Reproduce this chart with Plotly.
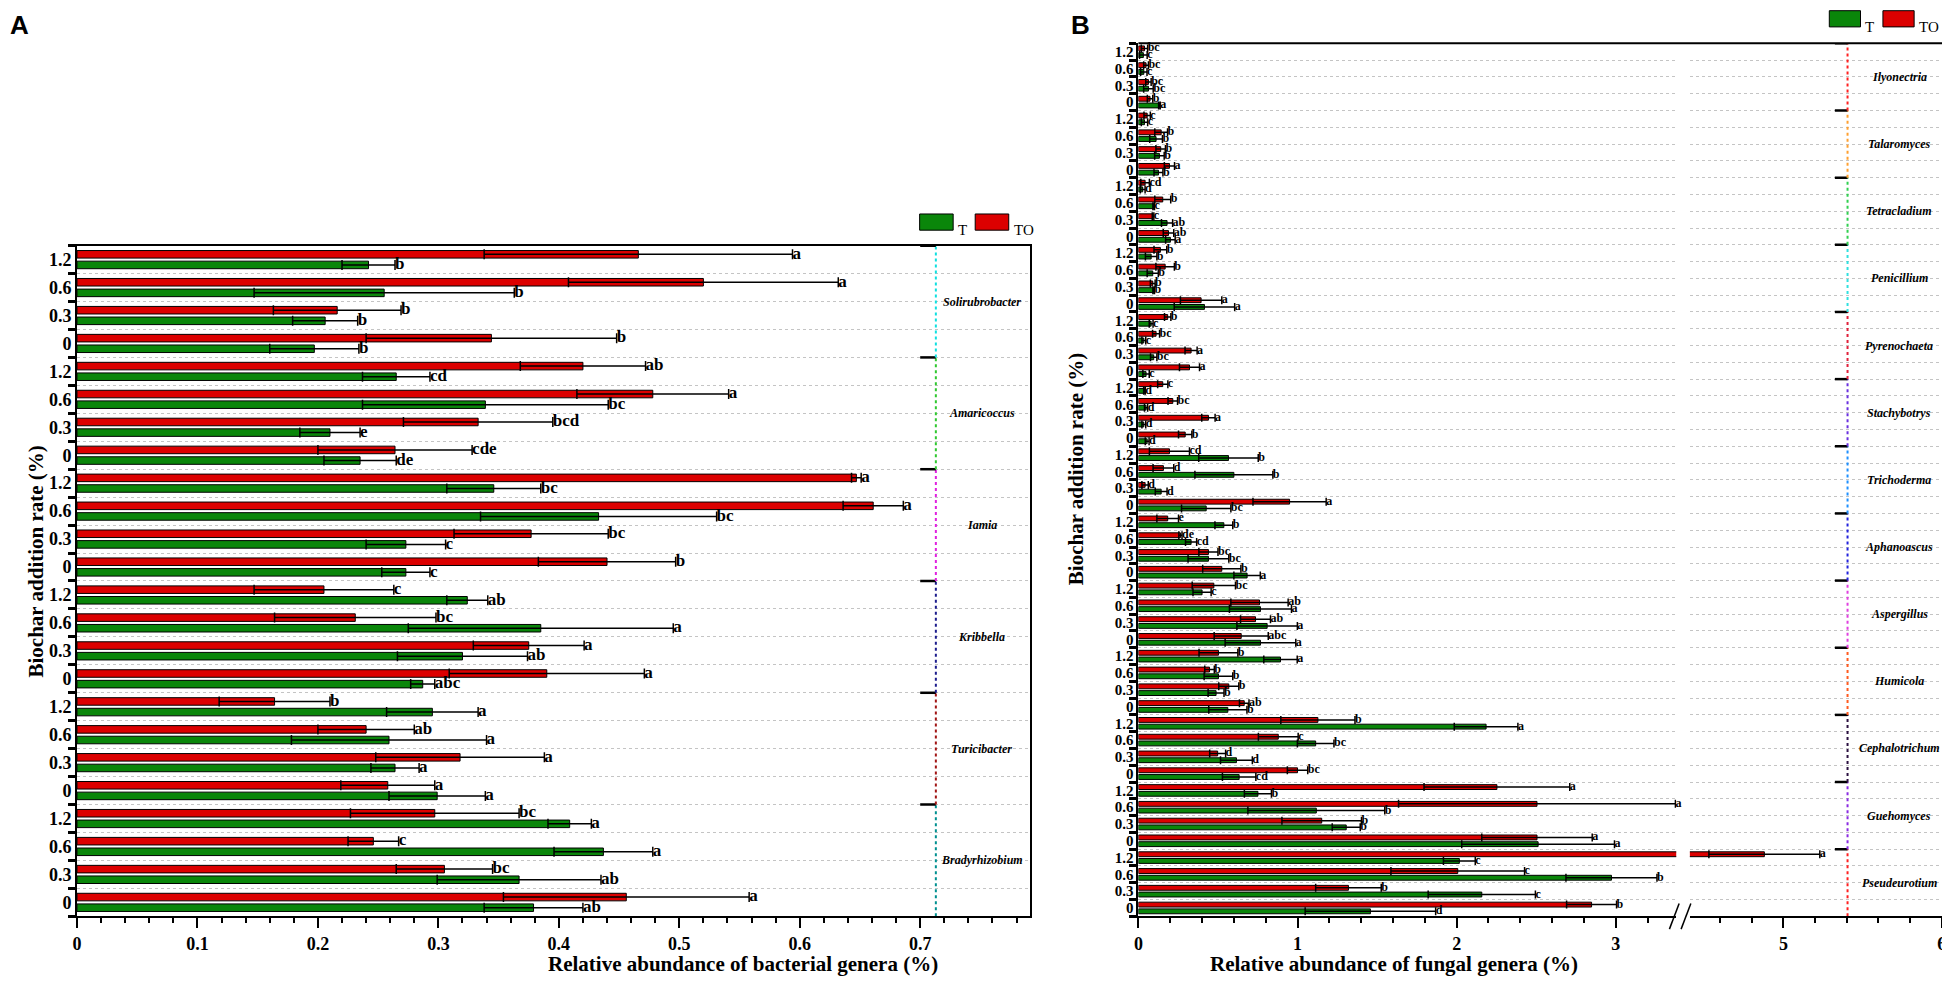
import plotly.graph_objects as go

# rates are listed bottom -> top inside each genus block
rates = ["0", "0.3", "0.6", "1.2"]

# ---------------- panel A: bacteria (genera bottom -> top) ----------------
bac_genera = ["Bradyrhizobium", "Turicibacter", "Kribbella", "Iamia", "Amaricoccus", "Solirubrobacter"]
bac_colors = ["#009090", "#a01414", "#1c1c8c", "#e020e0", "#30c830", "#10e0e0"]

bac_t_mean = [[0.379, 0.367, 0.437, 0.409], [0.299, 0.264, 0.259, 0.295], [0.287, 0.320, 0.385, 0.324],
              [0.273, 0.273, 0.433, 0.346], [0.235, 0.210, 0.339, 0.265], [0.197, 0.206, 0.255, 0.242]]
bac_t_err = [[0.041, 0.068, 0.041, 0.018], [0.040, 0.020, 0.081, 0.038], [0.010, 0.054, 0.110, 0.017],
             [0.020, 0.033, 0.098, 0.039], [0.030, 0.025, 0.102, 0.028], [0.037, 0.027, 0.108, 0.022]]
bac_t_sig = [["ab", "ab", "a", "a"], ["a", "a", "a", "a"], ["abc", "ab", "a", "ab"],
             ["c", "c", "bc", "bc"], ["de", "e", "bc", "cd"], ["b", "b", "b", "b"]]

bac_to_mean = [[0.456, 0.305, 0.246, 0.297], [0.258, 0.318, 0.240, 0.164], [0.390, 0.375, 0.231, 0.205],
               [0.440, 0.377, 0.661, 0.647], [0.264, 0.333, 0.478, 0.420], [0.344, 0.216, 0.520, 0.466]]
bac_to_err = [[0.102, 0.040, 0.021, 0.070], [0.039, 0.070, 0.040, 0.046], [0.081, 0.046, 0.067, 0.058],
              [0.057, 0.064, 0.025, 0.004], [0.064, 0.062, 0.063, 0.052], [0.104, 0.053, 0.112, 0.128]]
bac_to_sig = [["a", "bc", "c", "bc"], ["a", "a", "ab", "b"], ["a", "a", "bc", "c"],
              ["b", "bc", "a", "a"], ["cde", "bcd", "a", "ab"], ["b", "b", "a", "a"]]

# ---------------- panel B: fungi (genera bottom -> top) ----------------
fun_genera = ["Pseudeurotium", "Guehomyces", "Cephalotrichum", "Humicola", "Aspergillus", "Aphanoascus",
              "Trichoderma", "Stachybotrys", "Pyrenochaeta", "Penicillium", "Tetracladium", "Talaromyces",
              "Ilyonectria"]
fun_colors = ["#ff2020", "#8a2be2", "#2b1040", "#ff5a1f", "#e040e0", "#2222dd", "#1e90ff", "#6a30e0",
              "#e0203a", "#30e0e0", "#30d050", "#ffa030", "#ff2020"]

fun_t_mean = [[1.458, 2.158, 2.973, 2.017], [2.512, 1.306, 1.118, 0.751], [0.633, 0.616, 1.114, 2.185],
              [0.562, 0.488, 0.503, 0.893], [0.767, 0.809, 0.767, 0.400], [0.683, 0.440, 0.331, 0.537],
              [0.426, 0.143, 0.600, 0.566], [0.055, 0.034, 0.048, 0.038], [0.048, 0.096, 0.034, 0.080],
              [0.415, 0.096, 0.090, 0.080], [0.201, 0.180, 0.096, 0.027], [0.126, 0.132, 0.111, 0.038],
              [0.132, 0.063, 0.034, 0.031]]
fun_t_err = [[0.410, 0.337, 0.286, 0.100], [0.480, 0.088, 0.430, 0.085], [0.105, 0.100, 0.115, 0.200],
             [0.120, 0.050, 0.090, 0.105], [0.222, 0.190, 0.195, 0.057], [0.083, 0.128, 0.035, 0.056],
             [0.155, 0.037, 0.245, 0.187], [0.012, 0.012, 0.010, 0.005], [0.020, 0.020, 0.012, 0.012],
             [0.190, 0.005, 0.035, 0.036], [0.030, 0.035, 0.005, 0.015], [0.028, 0.030, 0.040, 0.020],
             [0.005, 0.030, 0.020, 0.024]]
fun_t_sig = [["d", "c", "b", "c"], ["a", "b", "b", "b"], ["cd", "d", "bc", "a"], ["b", "b", "b", "a"],
             ["a", "a", "a", "c"], ["a", "bc", "cd", "b"], ["bc", "d", "b", "b"], ["d", "d", "d", "d"],
             ["c", "bc", "c", "c"], ["a", "b", "b", "b"], ["a", "ab", "c", "d"], ["b", "b", "b", "c"],
             ["a", "bc", "c", "c"]]

fun_to_mean = [[2.848, 1.320, 2.007, 4.880], [2.505, 1.152, 2.505, 2.253], [1.000, 0.498, 0.879, 1.128],
               [0.665, 0.568, 0.447, 0.503], [0.646, 0.736, 0.761, 0.474], [0.524, 0.440, 0.264, 0.184],
               [0.950, 0.042, 0.157, 0.195], [0.294, 0.440, 0.216, 0.153], [0.321, 0.331, 0.111, 0.184],
               [0.394, 0.090, 0.168, 0.138], [0.189, 0.092, 0.153, 0.042], [0.195, 0.140, 0.143, 0.055],
               [0.073, 0.063, 0.048, 0.038]]
fun_to_err = [[0.157, 0.206, 0.420, 0.350], [0.347, 0.250, 0.870, 0.458], [0.064, 0.050, 0.125, 0.233],
              [0.030, 0.063, 0.030, 0.122], [0.170, 0.094, 0.180, 0.136], [0.120, 0.060, 0.010, 0.068],
              [0.230, 0.020, 0.065, 0.126], [0.042, 0.042, 0.030, 0.032], [0.063, 0.038, 0.022, 0.020],
              [0.130, 0.015, 0.058, 0.040], [0.033, 0.005, 0.050, 0.027], [0.032, 0.030, 0.040, 0.020],
              [0.017, 0.017, 0.015, 0.020]]
fun_to_sig = [["b", "b", "c", "a"], ["a", "b", "a", "a"], ["bc", "d", "c", "b"], ["ab", "b", "b", "b"],
              ["abc", "ab", "ab", "bc"], ["b", "bc", "de", "e"], ["a", "d", "d", "cd"], ["b", "a", "bc", "c"],
              ["a", "a", "bc", "b"], ["a", "b", "b", "b"], ["ab", "c", "b", "cd"], ["a", "b", "b", "c"],
              ["b", "bc", "bc", "bc"]]

SERIES = [("T", "#0a860a", -1), ("TO", "#dc0000", 1)]
SERIF = "Liberation Serif"
AX_BREAK = 4.0  # values past this are drawn on the right piece of the broken axis


def flat(nested):
    return [v for grp in nested for v in grp]


def draw_panel(fig, genera, means, errs, sigs, xaxes, yaxis, shift, width, letter_size, cap):
    rows = [g * len(rates) + k for g in range(len(genera)) for k in range(len(rates))]
    for (name, color, side), m, e, s in zip(SERIES, means, errs, sigs):
        ypos = [r + side * shift for r in rows]
        xs, es, ss = flat(m), flat(e), flat(s)
        for xa in xaxes:
            fig.add_trace(go.Bar(
                x=xs, y=ypos, orientation="h", width=width, name=name,
                marker=dict(color=color, line=dict(color="black", width=1)),
                error_x=dict(type="data", array=es, color="black", thickness=1.5, width=cap),
                xaxis=xa, yaxis=yaxis, showlegend=False))
        ends = [a + b for a, b in zip(xs, es)]
        for i, xa in enumerate(xaxes):
            pick = [j for j in range(len(ends)) if len(xaxes) == 1 or (ends[j] >= AX_BREAK) == (i == 1)]
            fig.add_trace(go.Scatter(
                x=[ends[j] for j in pick], y=[ypos[j] for j in pick], text=[ss[j] for j in pick],
                mode="text", textposition="middle right", cliponaxis=False,
                textfont=dict(family=SERIF, size=letter_size, color="black", weight="bold"),
                xaxis=xa, yaxis=yaxis, showlegend=False, hoverinfo="skip"))


def genus_marks(fig, genera, colors, xaxis, yaxis, x_line, x_tick, x_label, label_size):
    n = len(rates)
    for g, (name, col) in enumerate(zip(genera, colors)):
        lo, hi = g * n - 0.5, g * n + n - 0.5
        fig.add_trace(go.Scatter(x=[x_line, x_line], y=[lo, hi], mode="lines",
                                 line=dict(color=col, width=2, dash="dot"),
                                 xaxis=xaxis, yaxis=yaxis, showlegend=False, hoverinfo="skip"))
        fig.add_trace(go.Scatter(x=[x_tick, x_line], y=[hi, hi], mode="lines",
                                 line=dict(color="black", width=2.5),
                                 xaxis=xaxis, yaxis=yaxis, showlegend=False, hoverinfo="skip"))
        fig.add_annotation(x=x_label, y=g * n + (n - 1) / 2, xref=xaxis, yref=yaxis, text=name,
                           showarrow=False, xanchor="center",
                           font=dict(family=SERIF, size=label_size, color="black",
                                     weight="bold", style="italic"))


def legend_boxes(fig, x0, y_mid, box_w, step, h):
    for i, (name, color, _) in enumerate(SERIES):
        xa = x0 + i * step
        fig.add_shape(type="rect", xref="paper", yref="paper", x0=xa, x1=xa + box_w,
                      y0=y_mid - h / 2, y1=y_mid + h / 2, fillcolor=color,
                      line=dict(color="black", width=1))
        fig.add_annotation(x=xa + box_w + 0.0015, y=y_mid, xref="paper", yref="paper", text=name,
                           showarrow=False, xanchor="left", yshift=2,
                           font=dict(family=SERIF, size=15, color="black"))


fig = go.Figure()

draw_panel(fig, bac_genera, [bac_t_mean, bac_to_mean], [bac_t_err, bac_to_err],
           [bac_t_sig, bac_to_sig], ["x"], "y", 0.19, 0.27, 17, 5)
draw_panel(fig, fun_genera, [fun_t_mean, fun_to_mean], [fun_t_err, fun_to_err],
           [fun_t_sig, fun_to_sig], ["x2", "x3"], "y2", 0.20, 0.29, 12, 4)

genus_marks(fig, bac_genera, bac_colors, "x", "y", 0.713, 0.700, 0.751, 12)
genus_marks(fig, fun_genera, fun_colors, "x3", "y2", 5.405, 5.325, 5.73, 12)

tick_font = dict(family=SERIF, size=18, color="black", weight="bold")
common_x = dict(showgrid=False, zeroline=False, showline=True, linecolor="black", linewidth=2,
                ticks="outside", ticklen=10, tickwidth=2, tickcolor="black", tickfont=tick_font,
                automargin=False)

n_a = len(bac_genera) * len(rates)
n_b = len(fun_genera) * len(rates)
common_y = dict(zeroline=False, showgrid=False, showline=True, linecolor="black", linewidth=2,
                ticks="", automargin=False)

fig.update_layout(
    width=1950, height=982, margin=dict(l=0, r=0, t=0, b=0),
    paper_bgcolor="white", plot_bgcolor="white", barmode="overlay", showlegend=False,
    xaxis=dict(common_x, domain=[0.0354, 0.524], range=[0, 0.791], anchor="y", dtick=0.1, tick0=0,
               mirror=True,
               minor=dict(dtick=0.02, tick0=0, ticks="outside", ticklen=5, tickwidth=1.5,
                          tickcolor="black")),
    yaxis=dict(common_y, domain=[0.075, 0.758], range=[-0.5, n_a - 0.5], anchor="x", mirror=True,
               tickmode="array", tickvals=list(range(n_a)), ticktext=rates * len(bac_genera),
               tickfont=tick_font,
               minor=dict(tickmode="array", tickvals=[r - 0.5 for r in range(n_a + 1)],
                          ticks="outside", ticklen=7, tickwidth=3, tickcolor="black",
                          showgrid=True, gridcolor="#c4c4c4", griddash="dot", gridwidth=1)),
    xaxis2=dict(common_x, domain=[0.5797, 0.8555], range=[0, 3.38], anchor="y2", dtick=1, tick0=0,
                minor=dict(dtick=0.2, tick0=0, ticks="outside", ticklen=5, tickwidth=1.5,
                           tickcolor="black")),
    xaxis3=dict(common_x, domain=[0.8625, 0.9974], range=[4.41, 6.07], anchor="y2",
                tickmode="array", tickvals=[5, 6],
                minor=dict(dtick=0.2, tick0=0, ticks="outside", ticklen=5, tickwidth=1.5,
                           tickcolor="black")),
    yaxis2=dict(common_y, domain=[0.075, 0.964], range=[-0.5, n_b - 0.5], anchor="x2",
                tickmode="array", tickvals=list(range(n_b)), ticktext=rates * len(fun_genera),
                tickfont=dict(family=SERIF, size=15, color="black", weight="bold"),
                minor=dict(tickmode="array", tickvals=[r - 0.5 for r in range(n_b + 1)],
                           ticks="outside", ticklen=7, tickwidth=3, tickcolor="black",
                           showgrid=True, gridcolor="#c4c4c4", griddash="dot", gridwidth=1)),
)

# frame of panel B (top and right) and the axis-break marks
fig.add_shape(type="line", xref="paper", yref="paper", x0=0.5797, x1=0.9974, y0=0.964, y1=0.964,
              line=dict(color="black", width=2))
fig.add_shape(type="line", xref="paper", yref="paper", x0=0.9974, x1=0.9974, y0=0.075, y1=0.964,
              line=dict(color="black", width=2))
for bx in [0.8545, 0.8605]:
    fig.add_shape(type="line", xref="paper", yref="paper", x0=bx - 0.0025, x1=bx + 0.0025,
                  y0=0.062, y1=0.088, line=dict(color="black", width=1.5))

title_font = dict(family=SERIF, size=21, color="black", weight="bold")
fig.add_annotation(text="Relative abundance of bacterial genera (%)", x=0.276, y=0.012,
                   xref="paper", yref="paper", showarrow=False, font=title_font)
fig.add_annotation(text="Relative abundance of fungal genera (%)", x=0.806, y=0.012,
                   xref="paper", yref="paper", showarrow=False, font=title_font)
fig.add_annotation(text="Biochar addition rate (%)", x=0.007, y=0.436, textangle=-90,
                   xref="paper", yref="paper", showarrow=False, font=title_font)
fig.add_annotation(text="Biochar addition rate (%)", x=0.5475, y=0.53, textangle=-90,
                   xref="paper", yref="paper", showarrow=False, font=title_font)
panel_font = dict(family="Liberation Sans", size=26, color="black", weight="bold")
fig.add_annotation(text="A", x=0.0, y=1.0, xref="paper", yref="paper", xanchor="left",
                   yanchor="top", showarrow=False, font=panel_font)
fig.add_annotation(text="B", x=0.544, y=1.0, xref="paper", yref="paper", xanchor="left",
                   yanchor="top", showarrow=False, font=panel_font)

legend_boxes(fig, 0.4675, 0.782, 0.0172, 0.0285, 0.0165)
legend_boxes(fig, 0.934, 0.989, 0.016, 0.0275, 0.0165)

fig.write_html("out.html")
